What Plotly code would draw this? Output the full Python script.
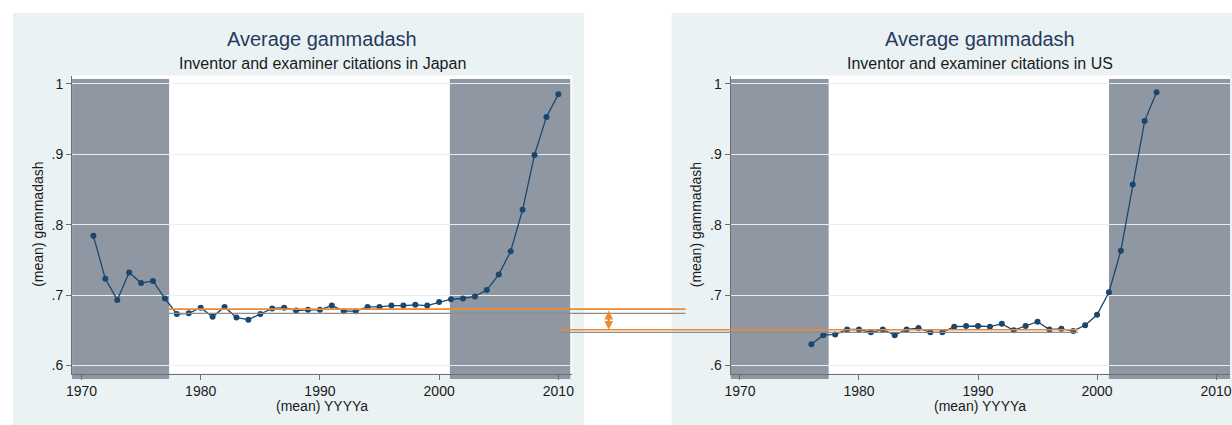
import plotly.graph_objects as go

# ---- data -------------------------------------------------------------
years_jp = list(range(1971, 2011))
gamma_jp = [0.784, 0.723, 0.693, 0.732, 0.717, 0.720, 0.695, 0.673, 0.674, 0.682,
            0.669, 0.683, 0.668, 0.665, 0.673, 0.681, 0.682, 0.678, 0.679, 0.679,
            0.685, 0.677, 0.677, 0.683, 0.683, 0.685, 0.685, 0.686, 0.685, 0.690,
            0.694, 0.695, 0.698, 0.707, 0.729, 0.762, 0.821, 0.899, 0.953, 0.985]

years_us = list(range(1976, 2006))
gamma_us = [0.630, 0.643, 0.644, 0.651, 0.651, 0.647, 0.651, 0.643, 0.651, 0.653,
            0.647, 0.647, 0.655, 0.656, 0.656, 0.655, 0.659, 0.650, 0.656, 0.662,
            0.651, 0.652, 0.649, 0.657, 0.672, 0.704, 0.763, 0.857, 0.947, 0.988]

# truncation windows (shaded years) per panel
shade_jp = [(1969.2, 1977.35), (2000.9, 2011.0)]
shade_us = [(1969.2, 1977.45), (2001.0, 2011.2)]

# plateau levels (orange = mean, grey = reference)
level_jp = {"orange": 0.680, "grey": 0.674}
level_us = {"orange": 0.6506, "grey": 0.647}
jp_level_start_year = 1977.35   # on Japan axis
us_level_end_year = 1998.4      # on US axis

xtick_vals = [1970, 1980, 1990, 2000, 2010]
ytick_vals = [0.6, 0.7, 0.8, 0.9, 1.0]
ytick_text = [".6", ".7", ".8", ".9", "1"]

titles = ["Average gammadash", "Average gammadash"]
subtitles = ["Inventor and examiner citations in Japan",
             "Inventor and examiner citations in US"]
x_title = "(mean) YYYYa"
y_title = "(mean) gammadash"

# ---- style / geometry -------------------------------------------------
W, H = 1232, 425
FONT = "Liberation Sans, Arial, sans-serif"
NAVY = "#1A476F"
PANEL = "#EAF2F3"
SHADE = "#8E97A2"
GRID = "#E6EEF1"
AXIS = "#6E6E6E"
ORANGE = "#EE8A35"
GREYLINE = "#8C8C8C"
TITLE_C = "#27395F"

X_RANGE = [1969.21, 2011.17]
Y_RANGE = [0.5885, 1.0118]
XDOM_L = [66.5 / W, 570 / W]
XDOM_R = [729.3 / W, 1232 / W]
YDOM = [1 - 373.5 / H, 1 - 75.5 / H]


def px(x):
    return x / W


def py(y):
    return 1 - y / H


def x_to_paper(year, dom):
    lo, hi = X_RANGE
    return dom[0] + (year - lo) / (hi - lo) * (dom[1] - dom[0])


fig = go.Figure()

marker = dict(size=6, color=NAVY)
line = dict(color=NAVY, width=1.3)
fig.add_trace(go.Scatter(x=years_jp, y=gamma_jp, mode="lines+markers",
                         line=line, marker=marker, xaxis="x", yaxis="y",
                         showlegend=False, hoverinfo="x+y"))
fig.add_trace(go.Scatter(x=years_us, y=gamma_us, mode="lines+markers",
                         line=line, marker=marker, xaxis="x2", yaxis="y2",
                         showlegend=False, hoverinfo="x+y"))

shapes = []
# panel backgrounds
for x0, x1 in [(7, 582), (670, 1250)]:
    shapes.append(dict(type="rect", xref="paper", yref="paper", layer="below",
                       x0=px(x0), x1=px(x1), y0=0, y1=py(13),
                       fillcolor=PANEL, line=dict(width=0)))
# white plot regions
for dom in (XDOM_L, XDOM_R):
    shapes.append(dict(type="rect", xref="paper", yref="paper", layer="below",
                       x0=dom[0], x1=dom[1], y0=YDOM[0], y1=YDOM[1],
                       fillcolor="white", line=dict(width=0)))
# shaded truncation windows
for xref, spans in (("x", shade_jp), ("x2", shade_us)):
    for a, b in spans:
        shapes.append(dict(type="rect", xref=xref, yref="paper", layer="below",
                           x0=a, x1=b, y0=py(379), y1=py(79),
                           fillcolor=SHADE, line=dict(width=0)))

# plateau level lines spanning across the two panels
jp_x0 = x_to_paper(jp_level_start_year, XDOM_L)
jp_x1 = px(684)
us_x0 = px(558)
us_x1 = x_to_paper(us_level_end_year, XDOM_R)
for key, color, width in (("grey", GREYLINE, 1.2), ("orange", ORANGE, 1.6)):
    shapes.append(dict(type="line", xref="paper", yref="y", layer="above",
                       x0=jp_x0, x1=jp_x1, y0=level_jp[key], y1=level_jp[key],
                       line=dict(color=color, width=width)))
    shapes.append(dict(type="line", xref="paper", yref="y", layer="above",
                       x0=us_x0, x1=us_x1, y0=level_us[key], y1=level_us[key],
                       line=dict(color=color, width=width)))

annotations = []
# gap arrow between the two levels
annotations.append(dict(xref="paper", yref="y", x=px(606.7), y=level_us["orange"],
                        axref="pixel", ayref="y", ax=0, ay=level_jp["orange"],
                        text="", showarrow=True, arrowside="end+start",
                        arrowhead=2, arrowsize=0.8, arrowwidth=2.2,
                        arrowcolor=ORANGE, standoff=0, startstandoff=0))

for i, dom in enumerate((XDOM_L, XDOM_R)):
    xc = (dom[0] + dom[1]) / 2
    annotations.append(dict(xref="paper", yref="paper", x=xc, y=py(39.5),
                            xanchor="center", yanchor="middle", showarrow=False,
                            text=titles[i],
                            font=dict(family=FONT, size=20, color=TITLE_C)))
    annotations.append(dict(xref="paper", yref="paper", x=xc, y=py(63.5),
                            xanchor="center", yanchor="middle", showarrow=False,
                            text=subtitles[i],
                            font=dict(family=FONT, size=16, color="#1a1a1a")))
    annotations.append(dict(xref="paper", yref="paper", x=xc, y=py(406),
                            xanchor="center", yanchor="middle", showarrow=False,
                            text=x_title,
                            font=dict(family=FONT, size=14, color="#1a1a1a")))
    annotations.append(dict(xref="paper", yref="paper", x=dom[0] - px(34),
                            y=(YDOM[0] + YDOM[1]) / 2, textangle=-90,
                            xanchor="center", yanchor="middle", showarrow=False,
                            text=y_title,
                            font=dict(family=FONT, size=14, color="#1a1a1a")))

common_x = dict(range=X_RANGE, tickvals=xtick_vals, showgrid=False,
                zeroline=False, showline=True, linecolor=AXIS, linewidth=1,
                ticks="outside", ticklen=5, tickcolor=AXIS,
                tickfont=dict(family=FONT, size=14, color="#1a1a1a"))
common_y = dict(range=Y_RANGE, domain=YDOM, tickvals=ytick_vals,
                ticktext=ytick_text, showgrid=True, gridcolor=GRID, gridwidth=1,
                zeroline=False, showline=True, linecolor=AXIS, linewidth=1,
                ticks="outside", ticklen=5, tickcolor=AXIS,
                tickfont=dict(family=FONT, size=14, color="#1a1a1a"))

fig.update_layout(
    width=W, height=H,
    margin=dict(l=0, r=0, t=0, b=0),
    paper_bgcolor="white",
    plot_bgcolor="rgba(0,0,0,0)",
    xaxis=dict(common_x, domain=XDOM_L, anchor="y"),
    yaxis=dict(common_y, anchor="x"),
    xaxis2=dict(common_x, domain=XDOM_R, anchor="y2"),
    yaxis2=dict(common_y, anchor="x2"),
    shapes=shapes,
    annotations=annotations,
    font=dict(family=FONT),
    showlegend=False,
)

fig.write_html("out.html")
